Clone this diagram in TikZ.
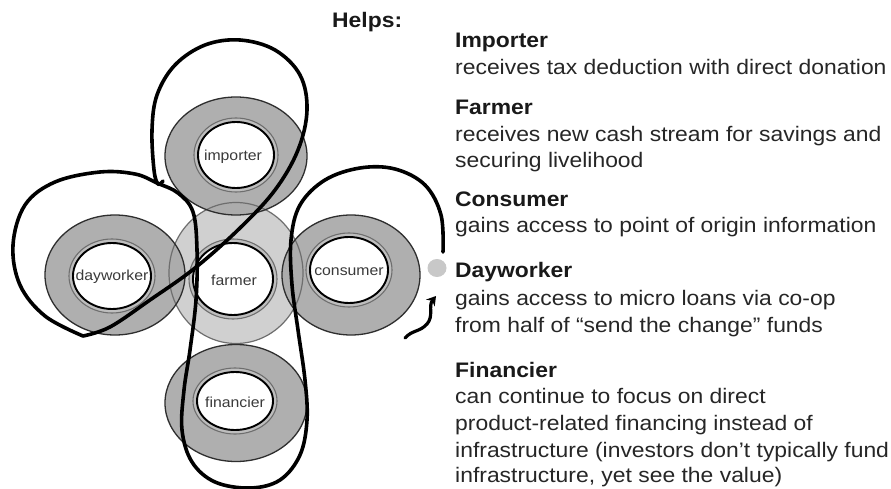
\documentclass[tikz,border=0pt]{standalone}
\usepackage{fontspec}
\setmainfont{Liberation Sans}[FakeStretch=1.09]
\usetikzlibrary{shapes.geometric,arrows.meta}
\definecolor{ringgray}{HTML}{A9A9A9}
\definecolor{farmgray}{HTML}{D0D0D0}
\definecolor{ringline}{HTML}{2E2E2E}
\definecolor{innerline}{HTML}{6E6E6E}
\definecolor{haloband}{HTML}{BEBEBE}
\definecolor{bodytext}{HTML}{262626}
\definecolor{labeltext}{HTML}{3A3A3A}
\definecolor{dotgray}{HTML}{C8C8C8}
\tikzset{
  ringfill/.style={ellipse, fill=ringgray, fill opacity=0.92, inner sep=0},
  ringedge/.style={ellipse, draw=ringline, line width=1.3pt, inner sep=0},
  innerhalo/.style={ellipse, fill=haloband, draw=innerline, line width=1.1pt, inner sep=0},
  innerwhite/.style={ellipse, fill=white, draw=black, line width=1.9pt, inner sep=0},
  ringlabel/.style={font=\fontsize{14.5}{16}\selectfont, text=labeltext, inner sep=0},
  loopline/.style={line width=3.6pt, line cap=round, line join=round},
  headtxt/.style={anchor=base west, inner sep=0, font=\fontsize{21}{26}\selectfont\bfseries, text=black!90},
  bodytxt/.style={anchor=base west, inner sep=0, font=\fontsize{21}{26}\selectfont, text=bodytext},
}
\begin{document}
\begin{tikzpicture}[x=1pt,y=-1pt]
\useasboundingbox (0,0) rectangle (891,489);
\fill[white] (0,0) rectangle (891,489);
% farmer big circle fill
\node[ellipse, fill=farmgray, minimum width=134pt, minimum height=141pt, inner sep=0] (farmerbg) at (236,273) {};
% outer ring fills
\node[ringfill, minimum width=142pt, minimum height=118pt] (impF) at (236,156) {};
\node[ringfill, minimum width=140pt, minimum height=120pt] (dayF) at (115,275) {};
\node[ringfill, minimum width=138pt, minimum height=120pt] (conF) at (351,275) {};
\node[ringfill, minimum width=142pt, minimum height=117pt] (finF) at (236,403) {};
% outlines
\node[ellipse, draw=innerline, line width=1.2pt, minimum width=134pt, minimum height=141pt, inner sep=0] (farmerO) at (236,273) {};
\node[ringedge, minimum width=142pt, minimum height=118pt] (impO) at (236,156) {};
\node[ringedge, minimum width=140pt, minimum height=120pt] (dayO) at (115,275) {};
\node[ringedge, minimum width=138pt, minimum height=120pt] (conO) at (351,275) {};
\node[ringedge, minimum width=142pt, minimum height=117pt] (finO) at (236,403) {};
% inner halos
\node[innerhalo, minimum width=84pt, minimum height=74pt] (impH) at (236,155) {};
\node[innerhalo, minimum width=88pt, minimum height=80pt] (farH) at (233,279) {};
\node[innerhalo, minimum width=86pt, minimum height=74pt] (dayH) at (112,276) {};
\node[innerhalo, minimum width=86pt, minimum height=74pt] (conH) at (349,270) {};
\node[innerhalo, minimum width=84pt, minimum height=66pt] (finH) at (235,401) {};
% inner whites
\node[innerwhite, minimum width=76pt, minimum height=66pt] (impW) at (236,155) {};
\node[innerwhite, minimum width=80pt, minimum height=72pt] (farW) at (233,279) {};
\node[innerwhite, minimum width=78pt, minimum height=66pt] (dayW) at (112,276) {};
\node[innerwhite, minimum width=78pt, minimum height=66pt] (conW) at (349,270) {};
\node[innerwhite, minimum width=76pt, minimum height=58pt] (finW) at (235,401) {};
% the thick loop
\draw[loopline] plot[smooth, tension=0.6] coordinates {
 (443,252) (441,215) (425,185) (395,169) (360,168) (325,180) (300,205) (291,240)
 (292,285) (298,330) (305,380) (307,420) (300,455) (280,480) (250,488) (215,482)
 (192,462) (182,430) (184,390) (190,350) (196,300) (197,250) (193,212) (178,193)
 (157,183) (135,174) (100,172) (55,182) (25,205) (13,245) (20,285) (45,316) (83,336)};
\draw[loopline] plot[smooth, tension=0.6] coordinates {
 (83,336) (110,327) (150,300) (195,268) (240,228) (275,190) (298,150) (307,110)
 (300,75) (275,50) (240,40) (205,45) (175,65) (157,95) (152,130) (154,170) (158,184) (163,181)};
% labels in the rings
\node[ringlabel] (impL) at (233,157) {importer};
\node[ringlabel] (farL) at (234,280) {farmer};
\node[ringlabel] (dayL) at (112,277) {dayworker};
\node[ringlabel] (conL) at (349,272) {consumer};
\node[ringlabel] (finL) at (235,402) {financier};
% dot and arrow
\node[ellipse, fill=dotgray, minimum width=19pt, minimum height=18pt, inner sep=0] (dot) at (437,268) {};
\coordinate (arrS) at (405,338);
\coordinate (arrE) at (436,296);
\draw[line width=3.2pt, line cap=round, -{Stealth[length=9pt,width=11pt]}] (arrS) .. controls (412,330) and (420,332) .. (427,324) .. controls (434,316) and (428,306) .. (arrE);
% text
\node[headtxt] (helps) at (332,28) {Helps:};
\node[headtxt] (h1) at (455,48) {Importer};
\node[bodytxt] (b1a) at (455,75) {receives tax deduction with direct donation};
\node[headtxt] (h2) at (455,115) {Farmer};
\node[bodytxt] (b2a) at (455,142) {receives new cash stream for savings and};
\node[bodytxt] (b2b) at (455,168) {securing livelihood};
\node[headtxt] (h3) at (455,207) {Consumer};
\node[bodytxt] (b3a) at (455,233) {gains access to point of origin information};
\node[headtxt] (h4) at (455,277) {Dayworker};
\node[bodytxt] (b4a) at (455,305) {gains access to micro loans via co-op};
\node[bodytxt] (b4b) at (455,332) {from half of “send the change” funds};
\node[headtxt] (h5) at (455,377) {Financier};
\node[bodytxt] (b5a) at (455,403) {can continue to focus on direct};
\node[bodytxt] (b5b) at (455,430) {product-related financing instead of};
\node[bodytxt] (b5c) at (455,457) {infrastructure (investors don’t typically fund};
\node[bodytxt] (b5d) at (455,482) {infrastructure, yet see the value)};
\end{tikzpicture}
\end{document}
